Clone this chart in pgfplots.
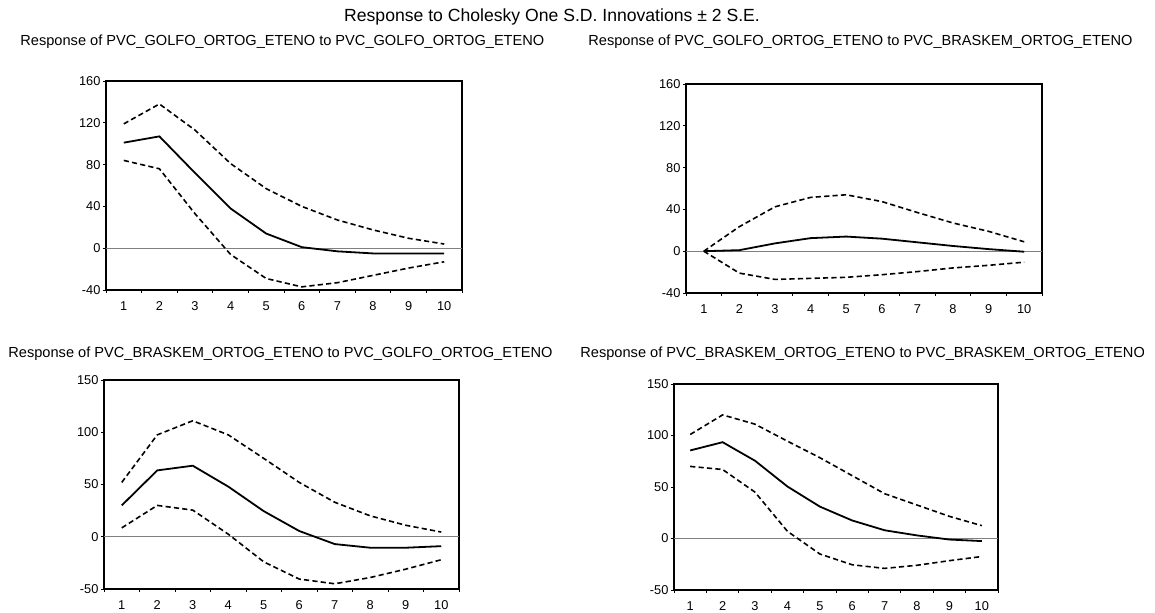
\documentclass[border=0pt]{standalone}
\usepackage{fontspec}
\setmainfont{Liberation Sans}
\usepackage{pgfplots}
\pgfplotsset{compat=1.18}
\pgfplotsset{
  irf/.style={
    scale only axis,
    anchor=south west,
    xmin=0.5, xmax=10.5,
    xtick={1,...,10},
    major x tick style={draw=none},
    minor xtick={0.5,1.5,...,10.5},
    tick align=outside,
    tick pos=left,
    major tick length=1.6pt,
    minor tick length=1.6pt,
    axis line style={line width=0.7pt},
    every tick/.style={black, line width=0.5pt},
    tick label style={font=\fontsize{6.4}{7}\selectfont},
    /pgf/number format/assume math mode=true,
    x tick label style={yshift=-0.8pt},
    y tick label style={inner sep=1pt},
  },
  est/.style={black, line width=0.9pt, no marks},
  band/.style={black, line width=0.8pt, no marks, dash pattern=on 2.6pt off 1.6pt},
  zl/.style={gray, line width=0.5pt, no marks},
}
\begin{document}
\begin{tikzpicture}
\useasboundingbox (0,0) rectangle (577.5pt,306pt);
\node[font=\fontsize{8.8}{10}\selectfont] at (276pt,297.5pt) {Response to Cholesky One S.D. Innovations ± 2 S.E.};
\node[font=\fontsize{7.3}{8}\selectfont, anchor=west, inner sep=0pt] at (10pt,285pt) {Response of PVC\_GOLFO\_ORTOG\_ETENO to PVC\_GOLFO\_ORTOG\_ETENO};
\node[font=\fontsize{7.3}{8}\selectfont, anchor=west, inner sep=0pt] at (294pt,285pt) {Response of PVC\_GOLFO\_ORTOG\_ETENO to PVC\_BRASKEM\_ORTOG\_ETENO};
\node[font=\fontsize{7.3}{8}\selectfont, anchor=west, inner sep=0pt] at (4pt,129pt) {Response of PVC\_BRASKEM\_ORTOG\_ETENO to PVC\_GOLFO\_ORTOG\_ETENO};
\begin{scope}
\clip (285pt,110pt) rectangle (571.5pt,140pt);
\node[font=\fontsize{7.3}{8}\selectfont, anchor=west, inner sep=0pt] at (290pt,129pt) {Response of PVC\_BRASKEM\_ORTOG\_ETENO to PVC\_BRASKEM\_ORTOG\_ETENO};
\end{scope}

% Panel 1
\begin{axis}[irf, at={(53pt,161pt)}, width=178pt, height=104.5pt,
  ymin=-40, ymax=160, ytick={-40,0,40,80,120,160}]
\addplot[zl] coordinates {(0.5,0) (10.5,0)};
\addplot[est] coordinates {(1,101) (2,107) (3,72) (4,38) (5,14) (6,1) (7,-3) (8,-5) (9,-5) (10,-5)};
\addplot[band] coordinates {(1,119) (2,138) (3,113) (4,81) (5,57) (6,40) (7,27) (8,17.5) (9,9.5) (10,4)};
\addplot[band] coordinates {(1,84) (2,76) (3,33) (4,-6) (5,-29) (6,-37) (7,-33) (8,-26) (9,-19) (10,-13)};
\end{axis}

% Panel 2
\begin{axis}[irf, at={(343pt,159.5pt)}, width=178pt, height=104.5pt,
  ymin=-40, ymax=160, ytick={-40,0,40,80,120,160}]
\addplot[zl] coordinates {(0.5,0) (10.5,0)};
\addplot[est] coordinates {(1,0) (2,1) (3,7.5) (4,12.5) (5,14) (6,12) (7,8.5) (8,5) (9,2) (10,-0.5)};
\addplot[band] coordinates {(1,0) (2,23.5) (3,42.5) (4,51.5) (5,54) (6,47.5) (7,37) (8,27) (9,19) (10,9)};
\addplot[band] coordinates {(1,0) (2,-21) (3,-27) (4,-26) (5,-25) (6,-22.5) (7,-19.5) (8,-16) (9,-13.5) (10,-10.5)};
\end{axis}

% Panel 3
\begin{axis}[irf, at={(52pt,11.5pt)}, width=177.5pt, height=104.5pt,
  ymin=-50, ymax=150, ytick={-50,0,50,100,150}]
\addplot[zl] coordinates {(0.5,0) (10.5,0)};
\addplot[est] coordinates {(1,30) (2,63.5) (3,68) (4,48) (5,24.5) (6,5.5) (7,-7) (8,-10.5) (9,-10.5) (10,-9)};
\addplot[band] coordinates {(1,52) (2,97.5) (3,111) (4,97.5) (5,75) (6,52) (7,33) (8,20) (9,11) (10,4.5)};
\addplot[band] coordinates {(1,8.5) (2,30) (3,25.5) (4,2.5) (5,-24) (6,-40.5) (7,-45) (8,-39) (9,-31) (10,-22)};
\end{axis}

% Panel 4
\begin{axis}[irf, at={(337pt,11pt)}, width=162pt, height=103pt,
  ymin=-50, ymax=150, ytick={-50,0,50,100,150}]
\addplot[zl] coordinates {(0.5,0) (10.5,0)};
\addplot[est] coordinates {(1,85.5) (2,93.5) (3,75.5) (4,50.5) (5,31) (6,17.5) (7,8) (8,3) (9,-1) (10,-2.5)};
\addplot[band] coordinates {(1,101) (2,120) (3,111) (4,94.5) (5,78.5) (6,61) (7,43.5) (8,32.5) (9,21.5) (10,12.5)};
\addplot[band] coordinates {(1,70) (2,67) (3,45) (4,7) (5,-15) (6,-25.5) (7,-29) (8,-26) (9,-21.5) (10,-17.5)};
\end{axis}
\end{tikzpicture}
\end{document}
